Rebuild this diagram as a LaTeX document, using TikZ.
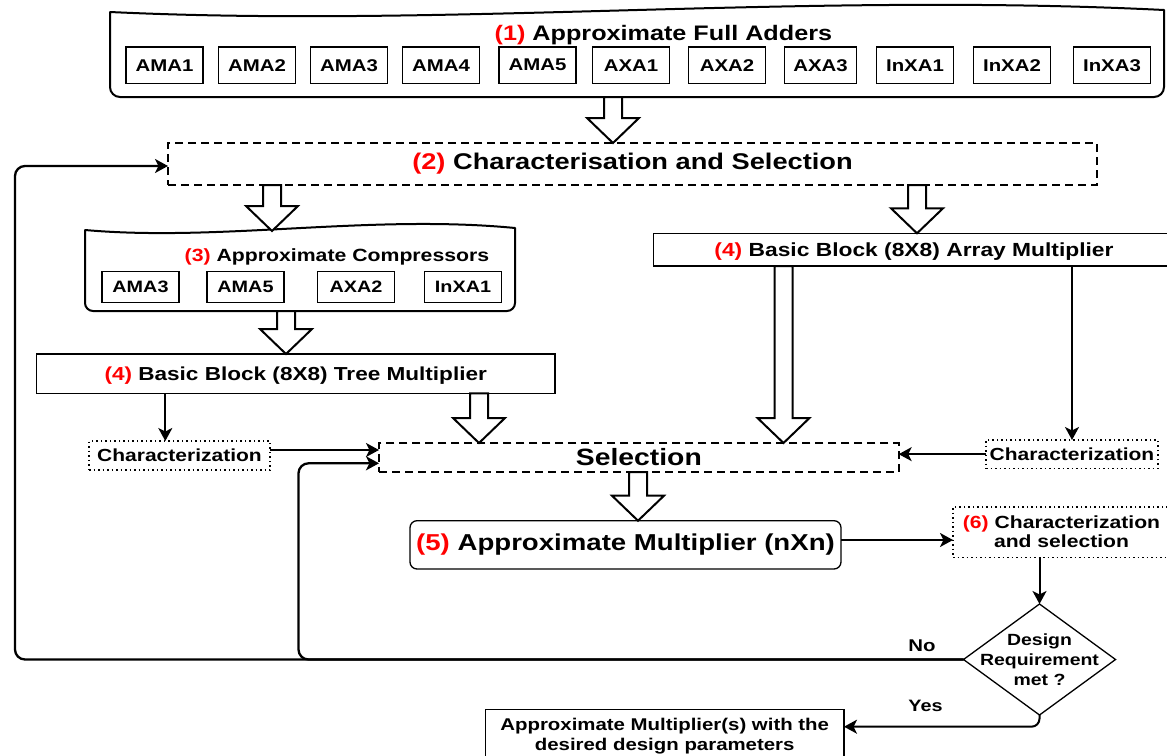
\documentclass[tikz,border=0pt]{standalone}
\usepackage{fontspec}
\setmainfont{Liberation Sans}[FakeStretch=1.2]
\usetikzlibrary{arrows.meta,calc}
\definecolor{numred}{HTML}{FF0000}
\newcommand{\fs}[1]{\fontsize{#1}{#1}\selectfont}
\newcommand{\harrow}[3]{%
  \draw[hollow] let \p1=(#2), \p2=(#3) in
    (#1pt-9pt,\y1) -- (#1pt-9pt,\y2+25pt) -- (#1pt-26pt,\y2+25pt) -- (#1pt,\y2)
    -- (#1pt+26pt,\y2+25pt) -- (#1pt+9pt,\y2+25pt) -- (#1pt+9pt,\y1) -- cycle;}
\begin{document}
\begin{tikzpicture}[x=1pt,y=-1pt,
  every node/.style={inner sep=0pt, outer sep=0pt, font=\bfseries},
  fa/.style={draw, line width=1.3pt, minimum width=77pt, minimum height=36.3pt, font=\bfseries\fs{17}},
  cp/.style={draw, line width=1.3pt, minimum width=77pt, minimum height=31pt, font=\bfseries\fs{16.5}},
  plainbox/.style={draw, line width=1.3pt},
  dashbox/.style={draw, line width=1.6pt, dash pattern=on 8pt off 5pt},
  dotbox/.style={draw, line width=1.6pt, dash pattern=on 1.5pt off 3pt},
  tip/.style={-{Stealth[length=13pt,width=14pt,inset=3.5pt]}},
  flow/.style={line width=2pt, tip},
  loopline/.style={line width=2.3pt, rounded corners=10pt, tip},
  hollow/.style={draw, line width=2pt, fill=white, line join=miter},
  docline/.style={line width=2pt, line join=round, line cap=round},
]
\useasboundingbox (0,0) rectangle (1167,755);

% (1) document shape
\node (d1) at (637,54.5) [minimum width=1054pt, minimum height=85pt] {};
\draw[docline] (110,12) .. controls (450,28) and (800,-8) .. (1164,10)
  [rounded corners=10pt] -- (1164,97) -- (110,97) -- (110,12);
\node (t1) at (663.4,35) {\fs{21}\textcolor{numred}{(1)} Approximate Full Adders};
\foreach \n/\x in {AMA1/164.5,AMA2/257,AMA3/349,AMA4/441,AMA5/537.5,AXA1/631,AXA2/727,InXA1/915,InXA2/1012,InXA3/1112}
  \node[fa] (fa\n) at (\x,65.2) {\n};
\node[fa, minimum width=72pt] (faAXA3) at (820.5,65.2) {AXA3};

% (2)
\node[dashbox, minimum width=929pt, minimum height=42pt] (c2) at (632.5,164)
  {\fs{22.7}\textcolor{numred}{(2)} Characterisation and Selection};

% (3) document shape
\node (d3) at (300,270.5) [minimum width=430pt, minimum height=81pt] {};
\draw[docline] (85,230) .. controls (220,242) and (370,214) .. (515,228)
  [rounded corners=8pt] -- (515,311) -- (85,311) -- (85,230);
\coordinate (d3tip) at (272,231);
\node (t3) at (337,257) {\fs{17.7}\textcolor{numred}{(3)} Approximate Compressors};
\node[cp] (cpAMA3) at (140.5,287) {AMA3};
\node[cp] (cpAMA5) at (245.5,287) {AMA5};
\node[cp] (cpAXA2) at (356,287) {AXA2};
\node[cp] (cpInXA1) at (463,287) {InXA1};

% (4) blocks
\node[plainbox, text depth=0pt, minimum width=518.6pt, minimum height=39.3pt] (tree) at (295.7,373.65)
  {\fs{18.8}\textcolor{numred}{(4)} Basic Block (8X8) Tree Multiplier};
\node[plainbox, text depth=0pt, minimum width=520.6pt, minimum height=32.7pt] (arr) at (914,249.65)
  {\fs{19}\textcolor{numred}{(4)} Basic Block (8X8) Array Multiplier};

% selection & characterization
\node[dashbox, minimum width=519.7pt, minimum height=29pt] (sel) at (638.85,457.5) {\fs{23.6}Selection};
\node[dotbox, minimum width=181pt, minimum height=29pt] (chl) at (179.5,455.5) {\fs{17.5}Characterization};
\node[dotbox, minimum width=172pt, minimum height=28.3pt] (chr) at (1072,454.15) {\fs{17.5}Characterization};

% (5), (6)
\node[plainbox, rounded corners=7pt, minimum width=431pt, minimum height=48.3pt] (m5) at (625.5,544.85)
  {\fs{23}\textcolor{numred}{(5)} Approximate Multiplier (nXn)};
\node[dotbox, minimum width=217pt, minimum height=50.6pt, align=center, font=\bfseries\fontsize{17.6}{19.3}\selectfont] (c6) at (1061.5,532)
  {\textcolor{numred}{(6)} Characterization\\and selection};

% decision
\node[minimum width=152pt, minimum height=111pt, align=center, font=\bfseries\fontsize{16.2}{20}\selectfont] (dia) at (1039.5,659.5)
  {Design\\Requirement\\met ?};
\draw[line width=1.3pt, line join=miter] (dia.north) -- (dia.east) -- (dia.south) -- (dia.west) -- cycle;

% final
\node[plainbox, minimum width=358.6pt, minimum height=52.6pt, align=center, font=\bfseries\fontsize{17}{20}\selectfont] (fin) at (664.7,736)
  {Approximate Multiplier(s) with the\\desired design parameters};

\node (lno) at (922,645.7) {\fs{17}No};
\node (lyes) at (925.5,706) {\fs{16.5}Yes};

% hollow arrows
\harrow{613}{d1.south}{c2.north}
\harrow{272}{c2.south}{d3tip}
\harrow{917}{c2.south}{arr.north}
\harrow{286}{d3.south}{tree.north}
\harrow{479}{tree.south}{sel.north}
\harrow{783.5}{arr.south}{sel.north}
\harrow{638}{sel.south}{m5.north}

% connectors
\coordinate (xl) at (165.3,0);
\draw[flow] (tree.south -| xl) -- (chl.north -| xl);
\draw[flow] (arr.south -| chr.north) -- (chr.north);
\draw[flow] ($(chl.east)+(0,-5.5)$) -- ($(sel.west)+(0,-7.5)$);
\draw[flow] (chr.west) -- (chr.west -| sel.east);
\draw[flow] ($(m5.east)+(0,-4.85)$) -- ($(c6.west)+(0,8)$);
\draw[flow] (c6.south -| dia.north) -- (dia.north);
\draw[flow, rounded corners=8pt] (dia.south) |- ($(fin.east)+(0,-9.3)$);
\draw[loopline] (dia.west) -- (15,659.5) -- (15,166) -- ($(c2.west)+(0,2)$);
\draw[loopline] (dia.west) -- (298.5,659.5) -- (298.5,463.3) -- ($(sel.west)+(0,5.8)$);
\end{tikzpicture}
\end{document}
